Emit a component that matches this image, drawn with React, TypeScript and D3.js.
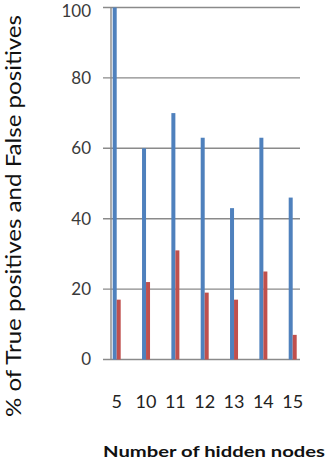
import React from "react";
import { scaleLinear, scalePoint } from "d3";

const nodes = ["5", "10", "11", "12", "13", "14", "15"];
const truePositives = [100, 60, 70, 63, 43, 63, 46];
const falsePositives = [17, 22, 31, 19, 17, 25, 7];
const yTicks = [0, 20, 40, 60, 80, 100];

const W = 325;
const H = 459;
const BLUE = "#4f81bd";
const RED = "#c0504d";

export default function App() {
  const y = scaleLinear().domain([0, 100]).range([359.5, 7.5]);
  const x = scalePoint().domain(nodes).range([116.7, 292.7]);
  const barW = 4;
  const axisX = 111;
  const font = "Lato, 'Open Sans', sans-serif";

  return (
    <svg
      width={W}
      height={H}
      style={{ position: "absolute", left: 0, top: 0, background: "#fff" }}
    >
      {/* gridlines + tick marks */}
      {yTicks.map((t) => (
        <line
          key={t}
          x1={103}
          x2={300}
          y1={y(t)}
          y2={y(t)}
          stroke="#8a8a8a"
          strokeWidth={1.4}
        />
      ))}
      <line x1={axisX} x2={axisX} y1={y(100)} y2={y(0)} stroke="#8a8a8a" strokeWidth={1.4} />

      {/* bars */}
      {nodes.map((n, i) => {
        const cx = x(n)!;
        return (
          <g key={n}>
            <rect
              x={cx - barW}
              y={y(truePositives[i])}
              width={barW}
              height={y(0) - y(truePositives[i])}
              fill={BLUE}
            />
            <rect
              x={cx}
              y={y(falsePositives[i])}
              width={barW}
              height={y(0) - y(falsePositives[i])}
              fill={RED}
            />
          </g>
        );
      })}

      {/* y tick labels */}
      {yTicks.map((t) => (
        <text
          key={t}
          x={91}
          y={Math.max(y(t), 11.5)}
          dy="0.35em"
          textAnchor="end"
          fontFamily={font}
          fontSize={17}
          fill="#3a3a3a"
        >
          {t}
        </text>
      ))}

      {/* x tick labels */}
      {nodes.map((n) => (
        <text
          key={n}
          x={x(n)!}
          y={401.5}
          dy="0.35em"
          textAnchor="middle"
          fontFamily={font}
          fontSize={18}
          fill="#222"
        >
          {n}
        </text>
      ))}

      {/* axis titles */}
      <text
        transform="translate(21,216) rotate(-90)"
        textAnchor="middle"
        fontFamily={font}
        fontSize={21}
        fill="#111"
        textLength={402}
        lengthAdjust="spacingAndGlyphs"
      >
        % of True positives and False positives
      </text>
      <text
        x={103}
        y={457}
        fontFamily={font}
        fontSize={16}
        fontWeight="bold"
        fill="#111"
        textLength={222}
        lengthAdjust="spacingAndGlyphs"
      >
        Number of hidden nodes
      </text>
    </svg>
  );
}
